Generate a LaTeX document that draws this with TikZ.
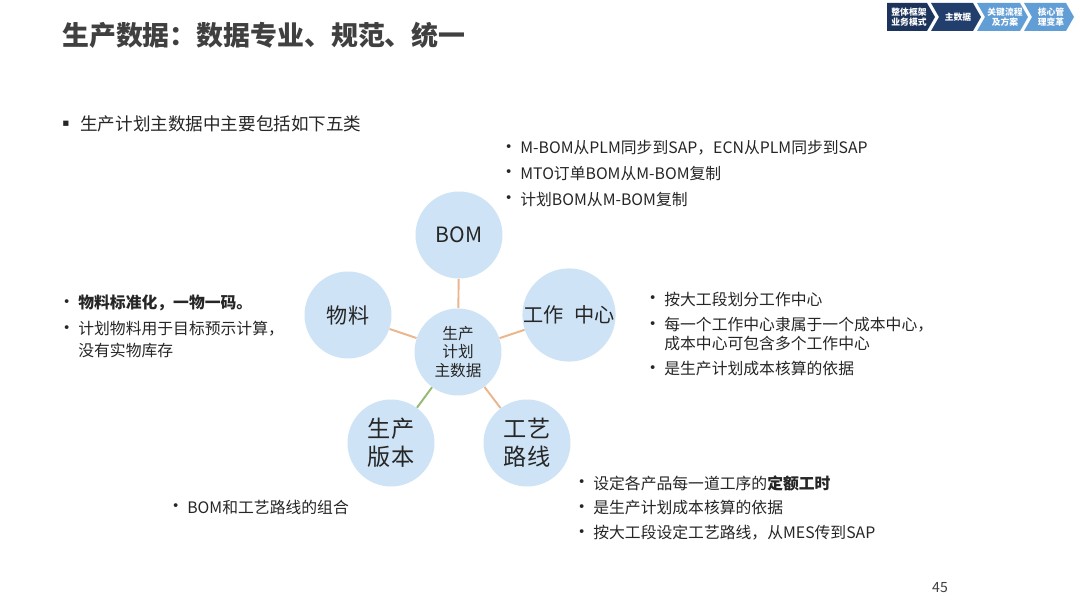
\documentclass[tikz,border=0pt]{standalone}
\usepackage{fontspec}
\setmainfont{Noto Sans CJK SC}
\newfontfamily\symfont{DejaVu Sans}
\usetikzlibrary{positioning}
\definecolor{titlegray}{RGB}{64,64,64}
\definecolor{txtdark}{RGB}{38,38,38}
\definecolor{bubble}{RGB}{206,228,246}
\definecolor{linktan}{RGB}{235,182,140}
\definecolor{linkgreen}{RGB}{150,185,115}
\definecolor{navdark}{RGB}{28,52,92}
\definecolor{navmid}{RGB}{34,62,108}
\definecolor{navlight}{RGB}{98,158,214}

\begin{document}
\begin{tikzpicture}[x=0.02cm,y=-0.02cm,
  bub/.style={circle,fill=bubble,minimum size=1.74cm,inner sep=0pt,text=txtdark,align=center},
  lbl/.style={inner sep=0pt,text=txtdark,xshift=-4pt,font=\symfont\fontsize{7.5}{8}\selectfont},
  itm/.style={anchor=west,inner sep=0pt,text=txtdark,font=\fontsize{9}{10}\selectfont,
    label={[lbl]left:•}},
  cont/.style={anchor=west,inner sep=0pt,text=txtdark,font=\fontsize{9}{10}\selectfont},
  link/.style={linktan,line width=1.1pt},
  chev/.style={text=white,font=\bfseries\fontsize{5}{5.6}\selectfont,align=center,inner sep=0pt}]
\fill[white] (0,0) rectangle (1080,607);

% header
\node[anchor=west,inner sep=0pt,text=titlegray,font=\bfseries\fontsize{15.3}{18}\selectfont] (title) at (62,35) {生产数据：数据专业、规范、统一};
\fill[navdark] (887,3) -- (927,3) -- (935,17) -- (927,31) -- (887,31) -- cycle;
\fill[navmid] (931,3) -- (973,3) -- (981,17) -- (973,31) -- (931,31) -- (939,17) -- cycle;
\fill[navlight] (977,3) -- (1020,3) -- (1028,17) -- (1020,31) -- (977,31) -- (985,17) -- cycle;
\fill[navlight] (1024,3) -- (1066,3) -- (1074,17) -- (1066,31) -- (1024,31) -- (1032,17) -- cycle;
\node[chev] (nav1) at (909,17) {整体框架\\业务模式};
\node[chev] (nav2) at (958,17) {主数据};
\node[chev] (nav3) at (1005,17) {关键流程\\及方案};
\node[chev] (nav4) at (1051,17) {核心管\\理变革};

\node[anchor=west,inner sep=0pt,text=txtdark,font=\fontsize{10}{12}\selectfont] (intro) at (80,124) {生产计划主数据中主要包括如下五类};
\node[inner sep=0pt,text=txtdark,font=\symfont\fontsize{6}{6}\selectfont] (introbul) at (66,124) {▪};

% bubbles
\node[bub,font=\fontsize{8.9}{10.5}\selectfont] (zsj) at (458,352) {生产\\计划\\主数据};
\node[bub,font=\fontsize{12}{14}\selectfont] (bom) at (459,235) {BOM};
\node[bub,font=\fontsize{12}{14}\selectfont] (wuliao) at (348,315) {物料};
\node[bub,font=\fontsize{11.5}{14}\selectfont] (gzzx) at (569,315) {工作\hspace{6pt}中心};
\node[bub,font=\fontsize{13.2}{16}\selectfont] (scbb) at (391,443) {生产\\版本};
\node[bub,font=\fontsize{13.2}{16}\selectfont] (gylx) at (527,443) {工艺\\路线};
\draw[link] (zsj) -- (bom);
\draw[link] (zsj) -- (wuliao);
\draw[link] (zsj) -- (gzzx);
\draw[link] (zsj) -- (gylx);
\draw[link,linkgreen] (zsj) -- (scbb);

% BOM notes
\node[itm] (bom1) at (520,148) {M-BOM从PLM同步到SAP，ECN从PLM同步到SAP};
\node[itm] (bom2) at (520,173) {MTO订单BOM从M-BOM复制};
\node[itm] (bom3) at (520,199) {计划BOM从M-BOM复制};

% material notes
\node[itm] (wl1) at (78,303) {\bfseries 物料标准化，一物一码。};
\node[itm] (wl2) at (78,329) {计划物料用于目标预示计算，};
\node[cont] (wl3) at (78,350) {没有实物库存};

% work center notes
\node[itm] (gz1) at (664,299) {按大工段划分工作中心};
\node[itm] (gz2) at (664,325) {每一个工作中心隶属于一个成本中心，};
\node[cont] (gz3) at (664,344) {成本中心可包含多个工作中心};
\node[itm] (gz4) at (664,369) {是生产计划成本核算的依据};

% version notes
\node[itm] (sc1) at (187,507) {BOM和工艺路线的组合};

% routing notes
\node[itm] (gy1) at (593,483) {设定各产品每一道工序的\textbf{定额工时}};
\node[itm] (gy2) at (593,508) {是生产计划成本核算的依据};
\node[itm] (gy3) at (593,533) {按大工段设定工艺路线，从MES传到SAP};

\node[text=titlegray,font=\fontsize{8}{9}\selectfont] (pageno) at (940,588) {45};
\end{tikzpicture}
\end{document}
